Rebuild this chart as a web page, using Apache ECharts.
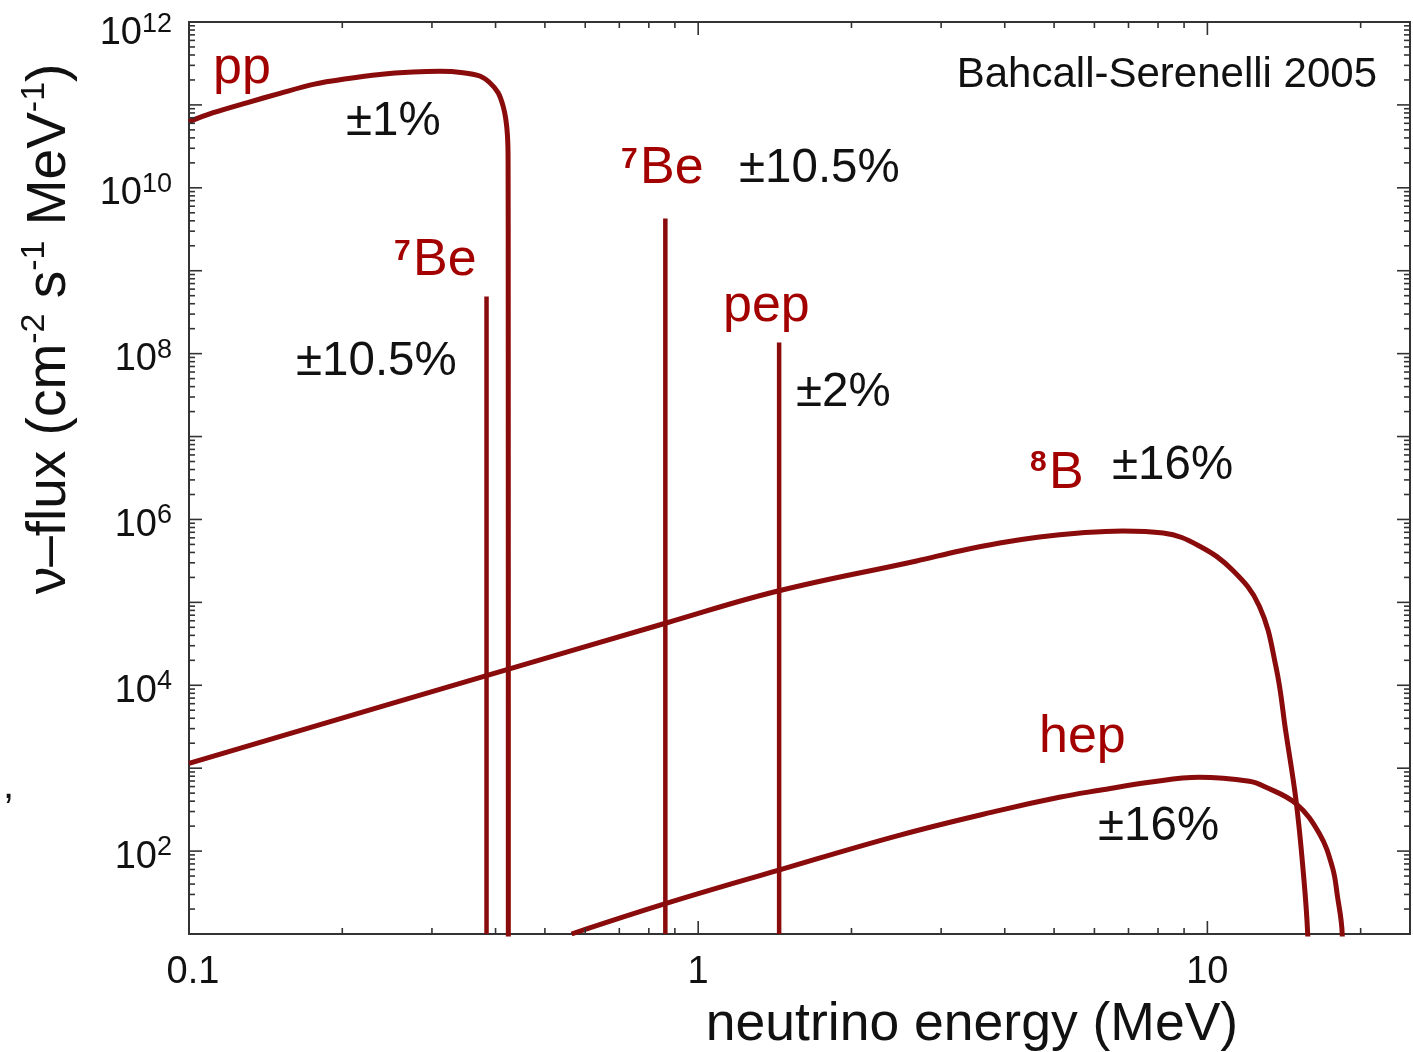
<!DOCTYPE html>
<html>
<head>
<meta charset="utf-8">
<script src="https://cdn.jsdelivr.net/npm/echarts@6/dist/echarts.min.js"></script>
<style>html,body{margin:0;padding:0;background:#fff;}#chart{width:1413px;height:1052px;}</style>
</head>
<body>
<div id="chart"></div>
<script>
// ---- data ----
const ppEnergy = [0.1, 0.1005, 0.1116, 0.1298, 0.1509, 0.1754, 0.2039, 0.237, 0.2756, 0.3109, 0.3454, 0.3725, 0.3898, 0.4047, 0.4139, 0.419, 0.4222, 0.4233, 0.4236, 0.4238, 0.4238];
const ppFlux   = [6.3e10, 6.37e10, 8.05e10, 1.06e11, 1.38e11, 1.77e11, 2.07e11, 2.33e11, 2.49e11, 2.54e11, 2.45e11, 2.23e11, 1.85e11, 1.4e11, 9.67e10, 6.68e10, 4.2e10, 2.2e10, 4.5e8, 10, 1];

const b8Energy = [0.1, 0.381, 0.862, 1.434, 2.685, 3.26, 3.91, 4.68, 5.61, 6.82, 8.19, 9.64, 11.2, 12.65, 13.64, 14.27, 14.93, 15.4, 15.74, 15.85];
const b8Flux   = [1146, 1.29e4, 5.6e4, 1.37e5, 3.16e5, 4.17e5, 5.2e5, 6.15e5, 6.87e5, 7.27e5, 6.87e5, 4.79e5, 2.45e5, 9.0e4, 1.66e4, 2640, 410, 64, 10, 1];

const hepEnergy = [0.564, 0.862, 1.434, 2.49, 3.91, 5.12, 6.14, 7.69, 9.64, 12.09, 13.0, 14.93, 16.6, 17.6, 18.0, 18.4, 18.5];
const hepFlux   = [10, 23.2, 58.5, 156, 310, 446, 541, 675, 776, 695, 593, 373, 162, 64, 29, 10, 1];

const lineNames    = ['7Be 0.384', '7Be 0.862', 'pep'];
const lineEnergies = [0.384, 0.862, 1.442];
const lineTops     = [4.9e8, 4.26e9, 1.36e8];

const xMajorTicks = [0.1, 1, 10];
const xMinorTicks = [0.2, 0.3, 0.4, 0.5, 0.6, 0.7, 0.8, 0.9, 2, 3, 4, 5, 6, 7, 8, 9, 20];
const xTickLabels = ['0.1', '1', '10'];
const yMajorExponents = [1, 2, 3, 4, 5, 6, 7, 8, 9, 10, 11, 12];
const yLabelExponents = [2, 4, 6, 8, 10, 12];
const yMinorMultipliers = [2, 3, 4, 5, 6, 7, 8, 9];

// ---- styles ----
const FONT = "'Liberation Sans', Arial, Helvetica, sans-serif";
const LINE = '#8a0b0b';
const RED = '#a30000';
const INK = '#111111';
const FRAME = '#333333';
const X_MIN = 0.1, X_MAX = 25, Y_MIN = 10, Y_MAX = 1e12;

const zip = (a, b) => a.map((v, i) => [v, b[i]]);

// tick items: [x, y, code]  code 0 = x minor, 1 = x major, 2 = y minor, 3 = y major
const tickData = [];
xMinorTicks.forEach(v => tickData.push([v, Y_MIN, 0]));
xMajorTicks.forEach(v => tickData.push([v, Y_MIN, 1]));
yMajorExponents.forEach(e => {
  tickData.push([X_MIN, Math.pow(10, e), 3]);
  if (e < 12) yMinorMultipliers.forEach(m => tickData.push([X_MIN, m * Math.pow(10, e), 2]));
});

// label items: [x, y, code, index] code 0 = x label, 1 = y label
const labelData = [];
xMajorTicks.forEach((v, i) => labelData.push([v, Y_MIN, 0, i]));
yLabelExponents.forEach((e, i) => labelData.push([X_MIN, Math.pow(10, e), 1, i]));

const chart = echarts.init(document.getElementById('chart'), null, {renderer: 'canvas'});

const lineSeries = lineEnergies.map((e, i) => ({
  name: lineNames[i], type: 'line', data: [[e, Y_MIN], [e, lineTops[i]]],
  symbol: 'none', lineStyle: {color: LINE, width: 4.5}, z: 3, clip: true
}));

const txt = (x, y, text, size, color, extra) => Object.assign({type: 'text', x: x, y: y, silent: true,
  style: Object.assign({text: text, fontFamily: FONT, fontSize: size, fill: color, align: 'left', verticalAlign: 'middle'}, extra || {})});

const option = {
  animation: false,
  backgroundColor: '#ffffff',
  grid: {left: 189, right: 3, top: 22, bottom: 118, show: true, borderColor: FRAME, borderWidth: 2, backgroundColor: 'transparent'},
  xAxis: {type: 'log', logBase: 10, min: X_MIN, max: X_MAX,
    axisLine: {show: false}, axisTick: {show: false}, axisLabel: {show: false}, splitLine: {show: false}},
  yAxis: {type: 'log', logBase: 10, min: Y_MIN, max: Y_MAX,
    axisLine: {show: false}, axisTick: {show: false}, axisLabel: {show: false}, splitLine: {show: false}},
  series: [
    {name: 'pp', type: 'line', data: zip(ppEnergy, ppFlux), symbol: 'none', smooth: 0.3,
     lineStyle: {color: LINE, width: 5}, z: 3, clip: true},
    {name: '8B', type: 'line', data: zip(b8Energy, b8Flux), symbol: 'none', smooth: 0.4,
     lineStyle: {color: LINE, width: 5}, z: 3, clip: true},
    {name: 'hep', type: 'line', data: zip(hepEnergy, hepFlux), symbol: 'none', smooth: 0.4,
     lineStyle: {color: LINE, width: 5}, z: 3, clip: true},
    ...lineSeries,
    {name: 'ticks', type: 'custom', data: tickData, encode: {x: 0, y: 1}, silent: true, z: 5,
     renderItem: function (params, api) {
       const code = api.value(2);
       const st = {stroke: FRAME, lineWidth: 1.6};
       if (code <= 1) {
         const v = api.value(0);
         const len = code === 1 ? 13 : 6;
         const pb = api.coord([v, Y_MIN]);
         const pt = api.coord([v, Y_MAX]);
         return {type: 'group', children: [
           {type: 'line', shape: {x1: pb[0], y1: pb[1], x2: pb[0], y2: pb[1] - len}, style: st},
           {type: 'line', shape: {x1: pt[0], y1: pt[1], x2: pt[0], y2: pt[1] + len}, style: st}
         ]};
       } else {
         const v = api.value(1);
         const len = code === 3 ? 13 : 6;
         const pl = api.coord([X_MIN, v]);
         const pr = api.coord([X_MAX, v]);
         return {type: 'group', children: [
           {type: 'line', shape: {x1: pl[0], y1: pl[1], x2: pl[0] + len, y2: pl[1]}, style: st},
           {type: 'line', shape: {x1: pr[0], y1: pr[1], x2: pr[0] - len, y2: pr[1]}, style: st}
         ]};
       }
     }},
    {name: 'labels', type: 'custom', data: labelData, encode: {x: 0, y: 1}, silent: true, z: 5,
     renderItem: function (params, api) {
       const code = api.value(2);
       const idx = api.value(3);
       const p = api.coord([api.value(0), api.value(1)]);
       if (code === 0) {
         return {type: 'text', x: p[0] + (idx === 0 ? 4 : 0), y: p[1] + 20, style: {
           text: xTickLabels[idx], fontFamily: FONT, fontSize: 38, fill: INK, align: 'center', verticalAlign: 'top'}};
       }
       return {type: 'text', x: p[0] - 17, y: p[1] + (idx === yLabelExponents.length - 1 ? 8 : 2), style: {
         text: '{b|10}{s|' + yLabelExponents[idx] + '}', align: 'right', verticalAlign: 'middle',
         rich: {
           b: {fontFamily: FONT, fontSize: 38, fill: INK, lineHeight: 38, padding: [8, 0, 0, 0]},
           s: {fontFamily: FONT, fontSize: 27, fill: INK, verticalAlign: 'top'}
         }}};
     }}
  ],
  graphic: [
    txt(213, 69, 'pp', 52, RED),
    txt(346, 122, '±1%', 47.5, INK),
    txt(394, 252, '7', 30, RED, {fontWeight: 'bold'}),
    txt(413, 261, 'Be', 52, RED),
    txt(296, 362, '±10.5%', 47.5, INK),
    txt(621, 160, '7', 30, RED, {fontWeight: 'bold'}),
    txt(640, 169, 'Be', 52, RED),
    txt(739, 169, '±10.5%', 47.5, INK),
    txt(723, 307, 'pep', 52, RED),
    txt(796, 393, '±2%', 47.5, INK),
    txt(1030, 463, '8', 30, RED, {fontWeight: 'bold'}),
    txt(1049, 474, 'B', 52, RED),
    txt(1112, 466, '±16%', 47.5, INK),
    txt(1039, 738, 'hep', 52, RED),
    txt(1098, 827, '±16%', 47.5, INK),
    txt(1377, 75, 'Bahcall-Serenelli 2005', 42, INK, {align: 'right'}),
    txt(972, 1025, 'neutrino energy (MeV)', 53.5, INK, {align: 'center'}),
    {type: 'text', x: 45, y: 329, rotation: Math.PI / 2, silent: true, style: {
      text: '{m|\u03bd\u2013flux (cm}{s|-2}{m| s}{s|-1}{m| MeV}{s|-1}{m|)}', align: 'center', verticalAlign: 'middle',
      rich: {
        m: {fontFamily: FONT, fontSize: 55, fill: INK, lineHeight: 55, padding: [10, 0, 0, 0]},
        s: {fontFamily: FONT, fontSize: 34, fill: INK, verticalAlign: 'top'}
      }}},
    txt(3, 787, ',', 40, INK)
  ]
};
chart.setOption(option);
</script>
</body>
</html>
